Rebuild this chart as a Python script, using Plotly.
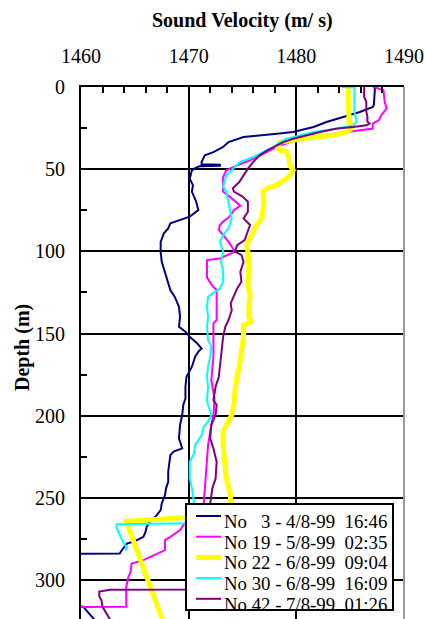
import plotly.graph_objects as go

# Sound velocity profiles: (depth m, velocity m/s) pairs per CTD cast
NO3 = [
    (0, 1487.2), (1, 1487.3), (11, 1487.2), (12.2, 1487.1), (15.2, 1485.9), (18.3, 1484.4),
    (21.3, 1482.8), (24.3, 1481.6), (27.4, 1479.7), (28.4, 1478.2), (29.4, 1476.3),
    (30.4, 1475.1), (33.5, 1473.7), (36.5, 1473.2), (39.6, 1472.3), (41.6, 1471.5),
    (45.6, 1471.2), (47.0, 1471.2), (47.3, 1472.9), (47.9, 1472.9), (48.2, 1471.0),
    (49.3, 1470.6), (50.7, 1470.3), (55.8, 1470.1), (59.8, 1470.4), (63.7, 1470.3),
    (69.8, 1470.7), (74.9, 1470.9), (78.9, 1470.1), (81.0, 1469.2), (83.0, 1468.3),
    (86.0, 1468.1), (89.0, 1467.7), (94.3, 1467.4), (100.3, 1467.4), (106.4, 1467.5),
    (112.5, 1467.8), (118.5, 1468.1), (123.5, 1468.3), (127.6, 1468.7), (133.7, 1469.1),
    (139.8, 1469.2), (145.9, 1469.1), (148.9, 1469.7), (152.0, 1470.1), (156.0, 1470.8),
    (159.1, 1471.2), (161.0, 1470.9), (164.1, 1470.6), (170.2, 1470.3), (176.3, 1469.8),
    (182.4, 1469.7), (189.5, 1469.7), (193.5, 1469.5), (199.6, 1469.4), (205.7, 1469.2),
    (213.8, 1469.1), (219.9, 1469.4), (221.9, 1468.6), (224.0, 1468.3), (234.1, 1468.1),
    (240.2, 1468.1), (244.2, 1467.9), (248.3, 1467.8), (253.4, 1467.5), (257.5, 1467.4),
    (261.5, 1466.9), (264.6, 1466.4), (267.6, 1466.1), (270.6, 1466.0), (273.7, 1465.8),
    (276.7, 1464.9), (277.7, 1464.3), (280.8, 1463.9), (283.8, 1463.6), (284.3, 1457.0),
    (315.5, 1457.0), (316.2, 1460.2), (321.3, 1460.9), (326.0, 1461.5),
]

NO19 = [
    (0, 1487.2), (2, 1488.1), (9, 1488.2), (13, 1488.4), (17, 1487.9), (20, 1487.7),
    (22.3, 1487.1), (25.3, 1487.1), (26.3, 1485.9), (28.4, 1483.4), (30.4, 1481.6),
    (32.5, 1480.0), (35.5, 1478.5), (38.5, 1477.6), (41.6, 1476.6), (44.6, 1475.7),
    (47.7, 1474.5), (50.7, 1473.5), (54.8, 1473.2), (58.8, 1473.2), (63.7, 1473.2),
    (66.7, 1473.8), (70.8, 1474.5), (72.2, 1474.8), (74.9, 1474.2), (78.9, 1473.8),
    (81.9, 1473.2), (84.0, 1472.9), (87.0, 1472.8), (90.1, 1473.2), (94.1, 1473.7),
    (97.2, 1474.0), (100.2, 1474.3), (104.3, 1472.9), (105.3, 1471.7), (110.0, 1471.7),
    (116.0, 1471.7), (121.0, 1472.2), (123.5, 1472.6), (141.8, 1472.6), (143.8, 1472.3),
    (152.0, 1472.3), (164.0, 1472.3), (178.3, 1472.1), (189.5, 1472.4), (199.6, 1472.3),
    (205.7, 1472.1), (217.9, 1471.8), (228.0, 1471.7), (240.2, 1471.6), (253.4, 1471.4),
    (258.0, 1471.0), (262.0, 1470.2), (266.6, 1469.5), (269.6, 1469.2), (273.7, 1468.3),
    (275.7, 1467.8), (281.8, 1467.8), (285.8, 1466.4), (287.9, 1465.8), (289.9, 1464.7),
    (295.0, 1464.6), (298.1, 1464.4), (304.2, 1464.2), (312.3, 1464.2), (316.3, 1464.2),
    (316.4, 1456.0),
]

NO22 = [
    (0, 1484.8), (21.3, 1484.9), (23.0, 1485.1), (25.3, 1485.1), (27.5, 1484.6),
    (29.4, 1483.4), (30.4, 1481.6), (31.5, 1480.2), (32.5, 1479.4), (33.5, 1478.5),
    (36.5, 1478.2), (38.5, 1478.5), (39.6, 1479.1), (42.6, 1479.3), (47.7, 1479.4),
    (50.7, 1479.7), (54.8, 1479.3), (57.8, 1478.6), (59.6, 1478.2), (61.6, 1477.3),
    (63.7, 1476.9), (69.8, 1477.0), (75.9, 1476.9), (80.0, 1476.8), (84.0, 1476.3),
    (90.1, 1475.8), (94.1, 1475.6), (96.2, 1475.4), (100.2, 1475.5), (110.4, 1475.6),
    (120.5, 1475.5), (126.7, 1475.7), (133.7, 1475.6), (139.8, 1475.6), (142.8, 1475.8),
    (144.9, 1475.1), (152.0, 1475.1), (164.1, 1474.9), (170.2, 1474.7), (176.3, 1474.5),
    (184.4, 1474.3), (193.5, 1474.2), (199.6, 1474.0), (205.7, 1473.5), (209.7, 1473.2),
    (217.9, 1473.2), (228.0, 1473.4), (238.2, 1473.5), (248.3, 1473.9), (253.4, 1473.9),
    (258.0, 1473.9), (261.3, 1473.8), (262.0, 1469.8), (264.3, 1464.2), (330.0, 1467.9),
]

NO30 = [
    (0, 1484.2), (0.3, 1485.4), (15.2, 1485.4), (21.3, 1485.6), (23.4, 1485.3),
    (25.3, 1483.8), (27.4, 1481.6), (29.4, 1480.3), (31.5, 1479.1), (33.5, 1478.5),
    (36.5, 1477.9), (39.6, 1476.9), (42.6, 1476.0), (45.6, 1474.8), (47.7, 1474.4),
    (50.7, 1474.0), (53.7, 1473.5), (57.8, 1473.3), (60.8, 1473.2), (63.7, 1473.5),
    (69.8, 1473.7), (75.9, 1473.9), (80.0, 1474.0), (86.0, 1473.7), (90.1, 1473.2),
    (94.1, 1472.9), (100.2, 1473.2), (106.4, 1473.0), (112.5, 1473.2), (118.5, 1473.2),
    (122.6, 1472.9), (124.5, 1472.5), (125.6, 1472.2), (127.6, 1471.8), (133.7, 1471.7),
    (139.8, 1471.8), (145.9, 1471.7), (154.0, 1471.8), (158.0, 1472.1), (164.1, 1472.0),
    (170.2, 1471.8), (176.3, 1471.7), (182.4, 1471.8), (190.5, 1471.7), (193.5, 1471.8),
    (199.6, 1472.1), (203.7, 1471.8), (206.7, 1471.4), (211.8, 1471.2), (217.9, 1470.6),
    (223.0, 1470.5), (228.0, 1470.1), (238.2, 1470.1), (244.2, 1470.3), (253.4, 1470.5),
    (258.0, 1470.4), (265.5, 1470.3), (266.1, 1463.3), (268.0, 1463.3), (274.0, 1463.7),
    (278.0, 1464.0), (280.5, 1464.3), (282.0, 1464.1),
]

NO42 = [
    (0, 1486.3), (6, 1486.3), (9, 1486.5), (15, 1486.5), (18, 1486.6), (21, 1486.6),
    (22.3, 1486.8), (23.3, 1486.5), (24.3, 1485.3), (25.3, 1483.8), (27.4, 1482.2),
    (29.4, 1481.0), (31.5, 1479.7), (33.5, 1478.8), (35.5, 1478.2), (38.5, 1477.3),
    (41.6, 1476.6), (45.6, 1476.0), (49.7, 1475.5), (53.7, 1475.1), (57.8, 1474.7),
    (61.6, 1474.1), (63.7, 1474.2), (66.7, 1475.0), (69.8, 1475.5), (75.9, 1475.5),
    (80.0, 1475.1), (84.0, 1475.7), (90.1, 1475.4), (93.1, 1475.2), (96.2, 1474.5),
    (100.2, 1474.3), (102.2, 1474.9), (106.4, 1475.1), (112.5, 1474.8), (118.5, 1474.9),
    (122.6, 1474.5), (127.6, 1474.2), (131.7, 1473.9), (135.8, 1474.0), (141.8, 1473.7),
    (145.9, 1473.4), (152.0, 1473.2), (158.1, 1473.1), (170.2, 1472.9), (176.3, 1472.8),
    (182.4, 1472.5), (190.5, 1472.3), (193.5, 1472.6), (199.6, 1472.5), (205.7, 1472.1),
    (213.8, 1472.0), (219.9, 1472.3), (228.0, 1472.6), (238.2, 1472.5), (244.2, 1472.2),
    (253.4, 1472.0), (260.0, 1471.7), (280.0, 1471.4), (300.0, 1471.1), (305.8, 1471.0),
    (305.9, 1462.7), (307.0, 1461.7), (310.0, 1461.7), (312.3, 1461.9), (316.3, 1462.0),
    (320.4, 1462.4), (324.0, 1462.7),
]

SERIES_NAMES = [
    "No\u00a0\u00a0\u00a03 - 4/8-99\u00a0\u00a016:46",
    "No 19 - 5/8-99\u00a0\u00a002:35",
    "No 22 - 6/8-99\u00a0\u00a009:04",
    "No 30 - 6/8-99\u00a0\u00a016:09",
    "No 42 - 7/8-99\u00a0\u00a001:26",
]
SERIES_DATA = [NO3, NO19, NO22, NO30, NO42]
SERIES_COLORS = ["#000080", "#FF00FF", "#FFFF00", "#00FFFF", "#800080"]
SERIES_WIDTHS = [2, 2, 5, 2, 2]

X_TICKS = [1460, 1470, 1480, 1490]
Y_TICKS = [0, 50, 100, 150, 200, 250, 300]

FONT = "Liberation Serif, Times New Roman, serif"
W, H = 425, 619
ML, MR, MT, MB = 81, 21, 87, 0

fig = go.Figure()
for name, data, color, width in zip(SERIES_NAMES, SERIES_DATA, SERIES_COLORS, SERIES_WIDTHS):
    depth = [p[0] for p in data]
    vel = [p[1] for p in data]
    fig.add_trace(go.Scatter(x=vel, y=depth, mode="lines", name=name,
                             line=dict(color=color, width=width), showlegend=False))

# pixel -> paper helpers for the hand-drawn legend box
PW, PH = W - ML - MR, H - MT - MB
def px_x(px):
    return (px - ML) / PW
def px_y(py):
    return (H - MB - py) / PH

shapes = [
    # right frame edge
    dict(type="line", xref="paper", yref="paper", x0=1, x1=1, y0=0, y1=1,
         line=dict(color="#9a9a9a", width=2), layer="above"),
    # legend frame
    dict(type="rect", xref="paper", yref="paper",
         x0=px_x(186), x1=px_x(393), y0=px_y(610), y1=px_y(504),
         fillcolor="white", line=dict(color="black", width=2), layer="above"),
]
annotations = []
row_h = 20.7
for i, (name, color, width) in enumerate(zip(SERIES_NAMES, SERIES_COLORS, SERIES_WIDTHS)):
    ly = 516 + row_h * i
    shapes.append(dict(type="line", xref="paper", yref="paper",
                       x0=px_x(196), x1=px_x(221), y0=px_y(ly), y1=px_y(ly),
                       line=dict(color=color, width=width), layer="above"))
    annotations.append(dict(xref="paper", yref="paper", x=px_x(222), y=px_y(521.5 + row_h * i),
                            text=name, showarrow=False, xanchor="left", yanchor="middle",
                            font=dict(family=FONT, size=18.8, color="black")))

annotations.append(dict(xref="paper", yref="paper", x=0.5, y=px_y(20.5),
                        text="<b>Sound Velocity (m/ s)</b>", showarrow=False,
                        xanchor="center", yanchor="middle",
                        font=dict(family=FONT, size=20, color="black")))
annotations.append(dict(xref="paper", yref="paper", x=px_x(22), y=px_y(348),
                        text="<b>Depth (m)</b>", showarrow=False, textangle=-90,
                        xanchor="center", yanchor="middle",
                        font=dict(family=FONT, size=20, color="black")))

fig.update_layout(
    width=W, height=H,
    margin=dict(l=ML, r=MR, t=MT, b=MB, pad=0),
    paper_bgcolor="white", plot_bgcolor="white",
    template="none",
    shapes=shapes, annotations=annotations,
    showlegend=False,
)
fig.update_xaxes(
    side="top", range=[1460, 1490], tickvals=X_TICKS,
    showgrid=True, gridcolor="black", gridwidth=2,
    showline=True, linecolor="black", linewidth=2,
    ticks="inside", ticklen=6, tickcolor="black", tickwidth=1.5,
    minor=dict(dtick=2, tick0=1460, ticks="inside", ticklen=6, tickcolor="black",
               tickwidth=1.5, showgrid=False),
    tickfont=dict(family=FONT, size=20, color="black"),
    ticklabelstandoff=14, zeroline=False, automargin=False,
)
fig.update_yaxes(
    range=[323.7, 0], tickvals=Y_TICKS,
    showgrid=True, gridcolor="black", gridwidth=2,
    showline=True, linecolor="black", linewidth=2,
    ticks="inside", ticklen=6, tickcolor="black", tickwidth=1.5,
    minor=dict(dtick=25, tick0=0, ticks="inside", ticklen=6, tickcolor="black",
               tickwidth=1.5, showgrid=False),
    tickfont=dict(family=FONT, size=20, color="black"),
    ticklabelstandoff=10, zeroline=False, automargin=False,
)

fig.write_html("out.html")
